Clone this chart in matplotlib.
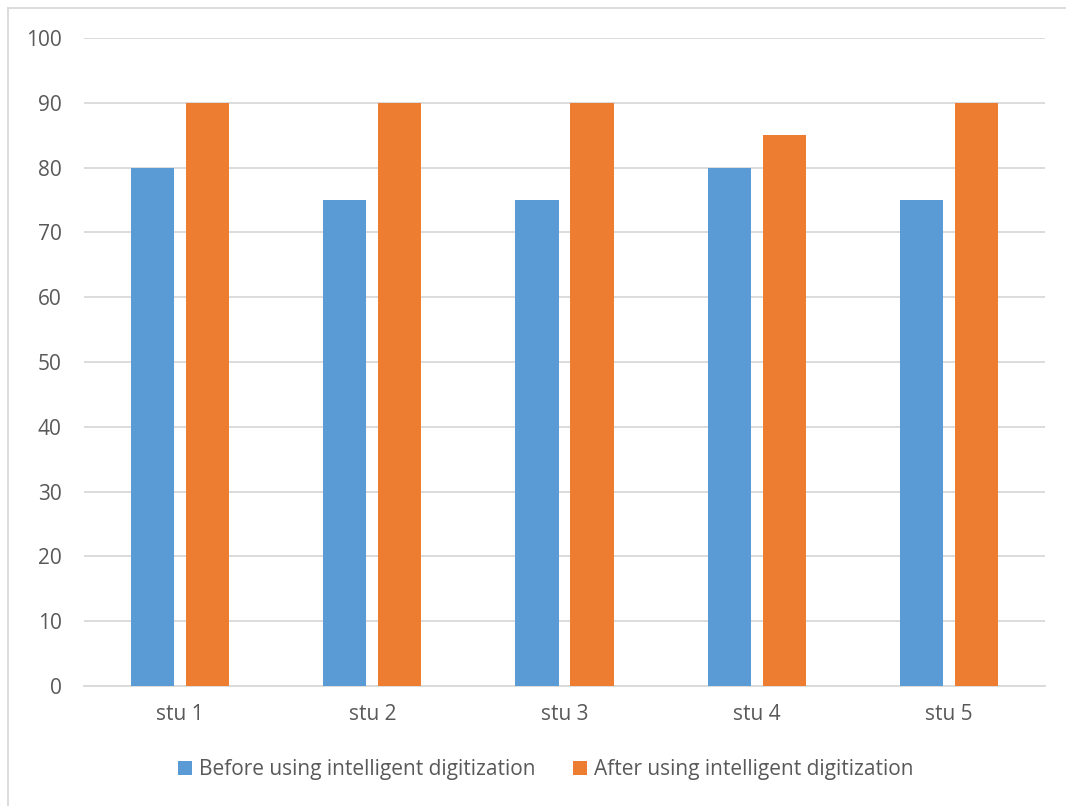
import matplotlib.pyplot as plt
import numpy as np
from matplotlib.lines import Line2D

# Scores per student, before and after
students = ["stu 1", "stu 2", "stu 3", "stu 4", "stu 5"]
before_scores = [80, 75, 75, 80, 75]
after_scores = [90, 90, 90, 85, 90]
series_names = ["Before using intelligent digitization",
                "After using intelligent digitization"]
y_ticks = [0, 10, 20, 30, 40, 50, 60, 70, 80, 90, 100]

plt.rcParams['font.family'] = ['Open Sans', 'DejaVu Sans']

fig = plt.figure(figsize=(10.66, 8.06), dpi=100)
ax = fig.add_axes([0.0788, 0.1489, 0.9015, 0.804])

x = np.arange(len(students))
width = 0.224
offset = 0.143
ax.bar(x - offset, before_scores, width, color='#5B9BD5', label=series_names[0], zorder=3)
ax.bar(x + offset, after_scores, width, color='#ED7D31', label=series_names[1], zorder=3)

ax.set_xlim(-0.5, len(students) - 0.5)
ax.set_ylim(0, 100)
ax.set_yticks(y_ticks)
ax.set_xticks(x)
ax.set_xticklabels(students)
ax.yaxis.grid(True, color='#D9D9D9', linewidth=1.3, zorder=0)
ax.set_axisbelow(True)
for side in ['top', 'right', 'left']:
    ax.spines[side].set_visible(False)
ax.spines['bottom'].set_color('#D9D9D9')
ax.spines['bottom'].set_linewidth(1.3)
ax.tick_params(axis='both', length=0, labelsize=15, labelcolor='#595959')
ax.tick_params(axis='y', pad=16)
ax.tick_params(axis='x', pad=13)

fig.legend(loc='center', bbox_to_anchor=(0.512, 0.045), ncol=2, frameon=False,
           fontsize=15, labelcolor='#595959', handlelength=0.65, handleheight=0.65,
           handletextpad=0.35, columnspacing=1.8)

# chart frame: left and top edges
fig.add_artist(Line2D([8 / 1066, 8 / 1066], [0, 1 - 8 / 806], transform=fig.transFigure,
                      color='#D9D9D9', linewidth=1.3))
fig.add_artist(Line2D([8 / 1066, 1], [1 - 8 / 806, 1 - 8 / 806], transform=fig.transFigure,
                      color='#D9D9D9', linewidth=1.3))

fig.savefig('out.png', dpi=100, facecolor='white')
